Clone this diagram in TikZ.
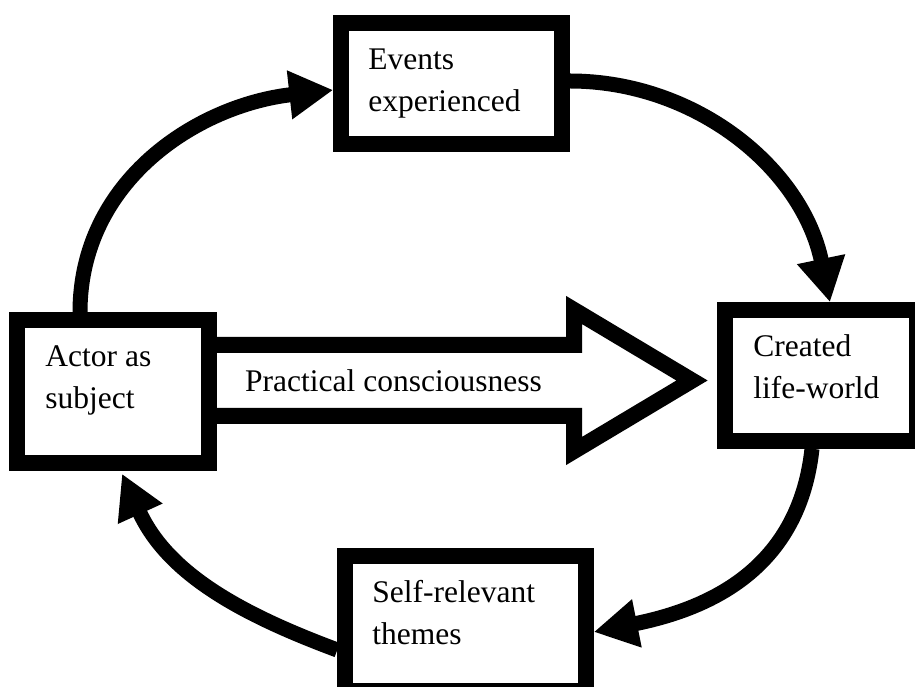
\documentclass[tikz,border=0pt]{standalone}
\usepackage{fontspec}
\setmainfont{Liberation Serif}
\usetikzlibrary{arrows.meta,calc}
\begin{document}
\begin{tikzpicture}[x=1pt,y=1pt,
  box/.style={draw, line width=15.5pt, fill=white, inner sep=0pt, rectangle},
  lbl/.style={anchor=base west, inner sep=0pt, font=\fontsize{31.5}{42}\selectfont},
  flow/.style={line width=15pt, -{Triangle[length=44pt,width=46pt]}},
  bigarrow/.style={line width=16pt, line join=miter, miter limit=10}]
\clip (0,0) rectangle (915,687);
\fill[white] (0,0) rectangle (915,687);
% boxes
\node[box, minimum width=192pt, minimum height=143pt] (actor) at (113,295.5) {};
\node[box, minimum width=221pt, minimum height=121pt] (events) at (451.5,603.5) {};
\node[box, minimum width=192pt, minimum height=131pt] (created) at (821,311.5) {};
\node[box, minimum width=241pt, minimum height=135pt] (self) at (465.5,63.5) {};
% labels
\node[lbl] (tactor) at ([xshift=36pt,yshift=-54pt]actor.north west) {\begin{tabular}[t]{@{}l@{}}Actor as\\subject\end{tabular}};
\node[lbl] (tevents) at ([xshift=35pt,yshift=-54pt]events.north west) {\begin{tabular}[t]{@{}l@{}}Events\\experienced\end{tabular}};
\node[lbl] (tcreated) at ([xshift=36pt,yshift=-54pt]created.north west) {\begin{tabular}[t]{@{}l@{}}Created\\life-world\end{tabular}};
\node[lbl] (tself) at ([xshift=35pt,yshift=-54pt]self.north west) {\begin{tabular}[t]{@{}l@{}}Self-relevant\\themes\end{tabular}};
% cycle arrows
\draw[flow] ([xshift=-33pt]actor.north) .. controls +(0,132) and +(-135,-15) .. ([yshift=-6.5pt]events.west);
\draw[flow] ([yshift=2.5pt]events.east) .. controls +(125,0) and +(-28,135) .. ([xshift=9pt]created.north);
\draw[flow] ([xshift=-9pt]created.south) .. controls +(-12,-110) and +(130,26) .. ([yshift=-8.5pt]self.east);
\draw[flow] ([yshift=-26.5pt]self.west) .. controls +(-94,35) and +(46,-101) .. ([xshift=9pt,yshift=-3pt]actor.south);
% big block arrow
\draw[bigarrow] ($(actor.east)+(0,46.5)$) -- (574,342) -- (574,377) -- (692,306.5) -- (574,236) -- (574,271) -- ($(actor.east)+(0,-24.5)$);
\node[lbl] (tpc) at (245,295) {Practical consciousness};
\end{tikzpicture}
\end{document}
